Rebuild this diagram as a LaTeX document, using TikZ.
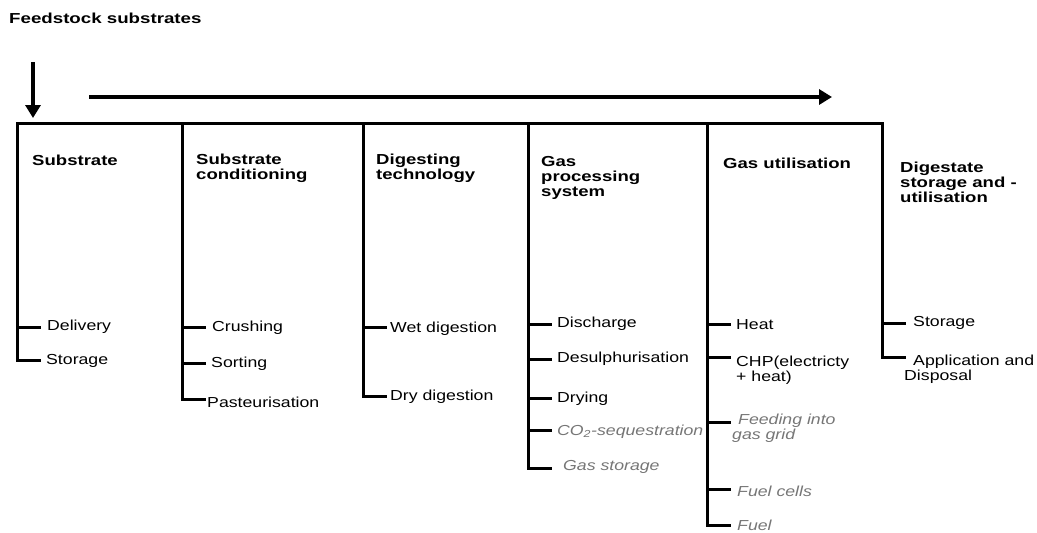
\documentclass[tikz,border=0pt]{standalone}
\usepackage{fontspec}
\setmainfont{Liberation Sans}
\usetikzlibrary{arrows.meta}
\newcommand{\rs}[1]{\scalebox{1.22}[1]{#1}}
\newcommand{\hb}[1]{\scalebox{1.28}[1]{#1}}
\definecolor{itemgray}{RGB}{118,118,118}
\begin{document}
\begin{tikzpicture}[x=1pt,y=-1pt,
  frame/.style={line width=3pt, line join=miter, line cap=rect},
  tick/.style={line width=3pt, line cap=rect},
  bigarrow/.style={line width=4pt, -{Triangle[length=13pt,width=15pt]}},
  item/.style={anchor=west, inner sep=0pt, align=left, font=\fontsize{14.5}{15}\selectfont},
  faint/.style={item, text=itemgray, font=\fontsize{14.5}{15}\selectfont\itshape},
  head/.style={anchor=west, inner sep=0pt, align=left, font=\fontsize{14.5}{15}\selectfont\bfseries}]
\useasboundingbox (0,0) rectangle (1037,533);

% title and arrows
\node[head] (title) at (9,18) {\scalebox{1.29}[1]{Feedstock substrates}};
\coordinate (inA) at (33,62);
\coordinate (inB) at (33,118);
\draw[bigarrow] (inA) -- (inB);
\coordinate (flowA) at (89,97);
\coordinate (flowB) at (832,97);
\draw[bigarrow] (flowA) -- (flowB);

% column tops
\coordinate (k1) at (17,123);
\coordinate (k2) at (182,123);
\coordinate (k3) at (363,123);
\coordinate (k4) at (528,123);
\coordinate (k5) at (707,123);
\coordinate (k6) at (882,123);

% headers
\node[head] (h1) at (32,160) {\hb{Substrate}};
\node[head] (h2) at (196,168.5) {\hb{Substrate}\\\hb{conditioning}};
\node[head] (h3) at (376,168.5) {\hb{Digesting}\\\hb{technology}};
\node[head] (h4) at (541,178) {\hb{Gas}\\\hb{processing}\\\hb{system}};
\node[head] (h5) at (723,163) {\hb{Gas utilisation}};
\node[head] (h6) at (900,182) {\hb{Digestate}\\\hb{storage and -}\\\hb{utilisation}};

% column 1
\node[item] (c1a) at (47,327) {\rs{Delivery}};
\node[item] (c1b) at (46,361) {\rs{Storage}};
\coordinate (e1a) at (17,327);
\coordinate (e1b) at (17,360);
% column 2
\node[item] (c2a) at (212,328) {\rs{Crushing}};
\node[item] (c2b) at (211,364) {\rs{Sorting}};
\node[item] (c2c) at (207,402) {\rs{Pasteurisation}};
\coordinate (e2a) at (182,327);
\coordinate (e2b) at (182,363);
\coordinate (e2c) at (182,399);
% column 3
\node[item] (c3a) at (390,329) {\rs{Wet digestion}};
\node[item] (c3b) at (390,397) {\rs{Dry digestion}};
\coordinate (e3a) at (363,327);
\coordinate (e3b) at (363,396);
% column 4
\node[item] (c4a) at (557,324) {\rs{Discharge}};
\node[item] (c4b) at (557,359) {\rs{Desulphurisation}};
\node[item] (c4c) at (557,399) {\rs{Drying}};
\node[faint] (c4d) at (557,432) {\rs{CO\textsubscript{2}-sequestration}};
\node[faint] (c4e) at (563,467) {\rs{Gas storage}};
\coordinate (e4a) at (528,324);
\coordinate (e4b) at (528,359);
\coordinate (e4c) at (528,398);
\coordinate (e4d) at (528,430);
\coordinate (e4e) at (528,468);
% column 5
\node[item] (c5a) at (736,325) {\rs{Heat}};
\node[item] (c5b) at (736,370.5) {\rs{CHP(electricty}\\\rs{+ heat)}};
\node[faint] (c5c) at (732,428) {\hspace*{6pt}\rs{Feeding into}\\\rs{gas grid}};
\node[faint] (c5d) at (737,491) {\rs{Fuel cells}};
\node[faint] (c5e) at (737,525) {\rs{Fuel}};
\coordinate (e5a) at (707,324);
\coordinate (e5b) at (707,357);
\coordinate (e5c) at (707,422);
\coordinate (e5d) at (707,489);
\coordinate (e5e) at (707,525);
% column 6
\node[item] (c6a) at (913,323) {\rs{Storage}};
\node[item] (c6b) at (904,369) {\hspace*{9pt}\rs{Application and}\\\rs{Disposal}};
\coordinate (e6a) at (882,323);
\coordinate (e6b) at (882,357);

% frame
\draw[frame] (e1b) -- (k1) -- (k6) -- (e6b);
\draw[frame] (k2) -- (e2c);
\draw[frame] (k3) -- (e3b);
\draw[frame] (k4) -- (e4e);
\draw[frame] (k5) -- (e5e);

% ticks
\foreach \e in {e1a,e1b,e2a,e2b,e2c,e3a,e3b,e4a,e4b,e4c,e4d,e4e,e5a,e5b,e5c,e5d,e5e,e6a,e6b}
  \draw[tick] (\e) -- ++(22,0);
\end{tikzpicture}
\end{document}
